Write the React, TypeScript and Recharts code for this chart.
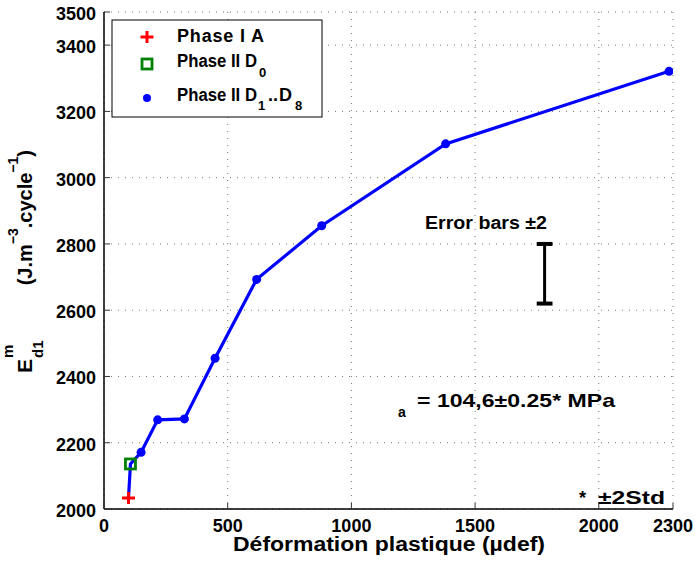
import React from 'react';
import { ComposedChart, Line, XAxis, YAxis, CartesianGrid, ReferenceLine } from 'recharts';

const FONT = '"Liberation Sans", Arial, Helvetica, sans-serif';

const xTicks = [0, 500, 1000, 1500, 2000, 2300];
const yTicks = [2000, 2200, 2400, 2600, 2800, 3000, 3200, 3400, 3500];

const phaseIA_strain = [99];
const phaseIA_energy = [2033];
const phaseIID0_strain = [107];
const phaseIID0_energy = [2136];
const phaseIID_strain = [150, 217, 325, 449, 617, 880, 1381, 2284];
const phaseIID_energy = [2171, 2269, 2272, 2455, 2693, 2855, 3102, 3321];

const errorBarX = 1781;
const errorBarLow = 2620;
const errorBarHigh = 2800;
const errorBarCap = 32;

const phaseA = phaseIA_strain.map((x, i) => ({ x, y: phaseIA_energy[i] }));
const phaseD0 = phaseIID0_strain.map((x, i) => ({ x, y: phaseIID0_energy[i] }));
const phaseD = phaseIID_strain.map((x, i) => ({ x, y: phaseIID_energy[i] }));
const blueLine = [...phaseA, ...phaseD0, ...phaseD];

const BLUE = '#0000ff';
const RED = '#ff0000';
const GREEN = '#008000';

const XTickBottom = (props: any) => {
  const { x, y, payload } = props;
  return (
    <g>
      <line x1={x} x2={x} y1={y} y2={y - 6} stroke="#333" strokeWidth={1} />
      <text x={x} y={y + 23} textAnchor="middle" fontFamily={FONT} fontWeight="bold" fontSize={18} fill="#000">
        {payload.value}
      </text>
    </g>
  );
};
const XTickTop = (props: any) => {
  const { x, y } = props;
  return <line x1={x} x2={x} y1={y} y2={y + 6} stroke="#333" strokeWidth={1} />;
};
const YTickLeft = (props: any) => {
  const { x, y, payload } = props;
  return (
    <g>
      <line x1={x} x2={x + 6} y1={y} y2={y} stroke="#333" strokeWidth={1} />
      <text x={x - 8} y={y + 8} textAnchor="end" fontFamily={FONT} fontWeight="bold" fontSize={18} fill="#000">
        {payload.value}
      </text>
    </g>
  );
};
const YTickRight = (props: any) => {
  const { x, y } = props;
  return <line x1={x} x2={x - 6} y1={y} y2={y} stroke="#333" strokeWidth={1} />;
};

const blueDot = (props: any) => {
  const { cx, cy, index } = props;
  if (index < 2) return <g key={`d${index}`} />;
  return <circle key={`d${index}`} cx={cx} cy={cy} r={4.5} fill={BLUE} stroke="none" />;
};
const plusDot = (props: any) => {
  const { cx, cy, index } = props;
  return (
    <path key={`p${index}`} d={`M${cx - 6.5},${cy}H${cx + 6.5}M${cx},${cy - 6}V${cy + 6}`} stroke={RED} strokeWidth={3} fill="none" />
  );
};
const squareDot = (props: any) => {
  const { cx, cy, index } = props;
  return <rect key={`s${index}`} x={cx - 5} y={cy - 5} width={10} height={10} stroke={GREEN} strokeWidth={2.8} fill="none" />;
};

const txt = { fontFamily: FONT, fontWeight: 'bold' as const, fill: '#000' };

export default function App() {
  return (
    <div style={{ position: 'absolute', left: 0, top: 0, width: 695, height: 566, background: '#fff' }}>
      <ComposedChart width={695} height={566} margin={{ top: 12, right: 22, bottom: 0, left: 0 }}>
        <CartesianGrid stroke="#777" strokeDasharray="1 6" />
        <XAxis
          type="number"
          dataKey="x"
          domain={[0, 2300]}
          ticks={xTicks}
          allowDataOverflow
          height={57}
          tickSize={0}
          tickMargin={0}
          tickLine={false}
          axisLine={{ stroke: '#000', strokeWidth: 1.5 }}
          tick={<XTickBottom />}
          interval={0}
        />
        <XAxis
          xAxisId="top"
          orientation="top"
          type="number"
          dataKey="x"
          domain={[0, 2300]}
          ticks={xTicks}
          allowDataOverflow
          height={0}
          tickSize={0}
          tickMargin={0}
          tickLine={false}
          axisLine={{ stroke: '#000', strokeWidth: 1.5 }}
          tick={<XTickTop />}
          interval={0}
        />
        <YAxis
          type="number"
          domain={[2000, 3500]}
          ticks={yTicks}
          allowDataOverflow
          width={104}
          tickSize={0}
          tickMargin={0}
          tickLine={false}
          axisLine={{ stroke: '#000', strokeWidth: 1.5 }}
          tick={<YTickLeft />}
          interval={0}
        />
        <YAxis
          yAxisId="right"
          orientation="right"
          type="number"
          domain={[2000, 3500]}
          ticks={yTicks}
          allowDataOverflow
          width={0}
          tickSize={0}
          tickMargin={0}
          tickLine={false}
          axisLine={{ stroke: '#000', strokeWidth: 1.5 }}
          tick={<YTickRight />}
          interval={0}
        />
        <ReferenceLine
          segment={[{ x: errorBarX, y: errorBarLow }, { x: errorBarX, y: errorBarHigh }]}
          stroke="#000"
          strokeWidth={3}
        />
        <ReferenceLine
          segment={[{ x: errorBarX - errorBarCap, y: errorBarHigh }, { x: errorBarX + errorBarCap, y: errorBarHigh }]}
          stroke="#000"
          strokeWidth={4}
        />
        <ReferenceLine
          segment={[{ x: errorBarX - errorBarCap, y: errorBarLow }, { x: errorBarX + errorBarCap, y: errorBarLow }]}
          stroke="#000"
          strokeWidth={4}
        />
        <Line
          data={blueLine}
          dataKey="y"
          stroke={BLUE}
          strokeWidth={3.2}
          dot={blueDot}
          activeDot={false}
          isAnimationActive={false}
          type="linear"
        />
        <Line data={phaseD0} dataKey="y" stroke="none" dot={squareDot} activeDot={false} isAnimationActive={false} />
        <Line data={phaseA} dataKey="y" stroke="none" dot={plusDot} activeDot={false} isAnimationActive={false} />
      </ComposedChart>

      <svg width={695} height={566} style={{ position: 'absolute', left: 0, top: 0, pointerEvents: 'none' }}>
        {/* Legend */}
        <rect x={112} y={20} width={210} height={97} fill="#fff" stroke="#000" strokeWidth={1} />
        <path d="M140.5,37H153.5M147,31V43" stroke={RED} strokeWidth={3} fill="none" />
        <rect x={142} y={59} width={10} height={10} stroke={GREEN} strokeWidth={2.8} fill="none" />
        <circle cx={147} cy={98} r={4} fill={BLUE} />
        <text {...txt} x={177} y={42} fontSize={18} textLength={87} lengthAdjust="spacing">Phase I A</text>
        <text {...txt} x={177} y={67} fontSize={18} textLength={80} lengthAdjust="spacingAndGlyphs">Phase II D</text>
        <text {...txt} x={259} y={77} fontSize={13}>0</text>
        <text {...txt} x={177} y={101} fontSize={18} textLength={80} lengthAdjust="spacingAndGlyphs">Phase II D</text>
        <text {...txt} x={258} y={110} fontSize={13}>1</text>
        <text {...txt} x={268} y={101} fontSize={18}>..</text>
        <text {...txt} x={279} y={101} fontSize={18}>D</text>
        <text {...txt} x={295} y={110} fontSize={13}>8</text>

        {/* Annotations */}
        <text {...txt} x={425} y={229} fontSize={18} textLength={122} lengthAdjust="spacingAndGlyphs">Error bars ±2</text>
        <text {...txt} x={398} y={417} fontSize={14}>a</text>
        <text {...txt} x={417} y={407} fontSize={19} textLength={198} lengthAdjust="spacingAndGlyphs">= 104,6±0.25* MPa</text>
        <text {...txt} x={579} y={504} fontSize={18}>*</text>
        <text {...txt} x={598} y={504} fontSize={19} textLength={67} lengthAdjust="spacingAndGlyphs">±2Std</text>

        {/* X label */}
        <text {...txt} x={233} y={551} fontSize={20} textLength={312} lengthAdjust="spacingAndGlyphs">Déformation plastique (µdef)</text>

        {/* Y label */}
        <g transform="translate(32,373) rotate(-90)">
          <text {...txt} x={0} y={0} fontSize={21}>E</text>
          <text {...txt} x={15} y={-19} fontSize={15}>m</text>
          <text {...txt} x={15} y={11} fontSize={15}>d1</text>
          <text {...txt} x={223} y={0} fontSize={20} textAnchor="end">
            (J.m<tspan fontSize={14} dy={-14}>−3</tspan>
            <tspan fontSize={20} dy={14}>.cycle</tspan>
            <tspan fontSize={14} dy={-14}>−1</tspan>
            <tspan fontSize={20} dy={14}>)</tspan>
          </text>
        </g>
      </svg>
    </div>
  );
}
